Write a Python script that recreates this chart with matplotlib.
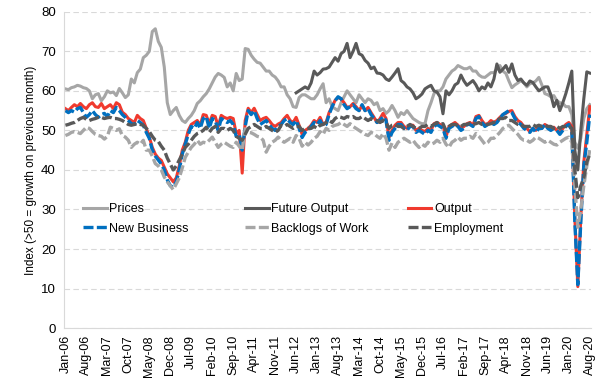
import matplotlib
matplotlib.use("Agg")
import matplotlib.pyplot as plt
import pandas as pd

plt.rcParams['font.family'] = ['Liberation Sans', 'DejaVu Sans']

months = list(pd.date_range('2006-01-01', '2020-08-01', freq='MS').strftime('%b-%y'))

prices = [
    60.5, 60.3, 60.8, 61.0, 61.4, 61.2, 60.8, 60.6, 60.0, 58.0, 59.0, 59.3,
    57.5, 58.5, 60.0, 59.5, 59.7, 58.8, 60.6, 59.5, 58.3, 59.0, 63.0, 62.0,
    64.6, 65.5, 68.4, 69.0, 70.0, 75.0, 75.7, 72.5, 71.0, 66.0, 57.0, 54.0,
    55.0, 55.8, 53.8, 52.5, 52.0, 53.0, 53.8, 55.0, 56.8, 57.5, 58.5, 59.3,
    60.5, 62.0, 63.5, 64.4, 64.0, 63.4, 61.0, 62.0, 60.0, 64.4, 62.6, 63.0,
    70.7, 70.5, 69.0, 68.0, 67.2, 67.0, 66.0, 65.0, 65.0, 64.0, 63.5, 62.5,
    61.0, 61.0, 59.0, 58.0, 56.0, 55.8, 58.3, 59.0, 59.0, 58.5, 58.0, 58.0,
    59.0, 60.5, 61.8, 57.0, 58.0, 56.0, 55.5, 55.0, 57.0, 58.5, 60.0, 59.0,
    58.0, 57.0, 59.0, 58.0, 57.0, 58.0, 57.6, 56.5, 57.0, 55.0, 55.5, 54.3,
    55.0, 56.3, 55.0, 53.3, 54.5, 54.0, 55.0, 54.0, 53.0, 52.5, 52.0, 51.7,
    51.7, 55.0, 57.0, 59.3, 60.0, 60.0, 61.0, 63.0, 64.0, 65.0, 65.5, 66.4,
    66.0, 65.6, 65.6, 66.0, 65.0, 65.0, 64.0, 63.5, 63.4, 64.0, 64.6, 64.6,
    65.5, 66.4, 65.0, 64.4, 62.5, 60.8, 61.5, 62.0, 62.6, 62.0, 61.0, 61.8,
    62.0, 62.5, 63.4, 61.5, 59.3, 59.0, 58.5, 58.8, 57.5, 57.0, 56.8, 56.0,
    56.0, 54.0, 47.0, 45.5, 48.0, 53.0, 55.5, 56.5,
]

future_output_start = 'Jun-12'
future_output = [
    59.5, 60.0, 60.5, 61.0, 60.5, 62.0, 65.0,
    64.0, 64.6, 65.5, 65.6, 66.0, 67.2, 68.4, 67.5, 69.4, 70.0, 72.0, 68.4,
    70.0, 72.0, 69.4, 69.0, 67.7, 67.0, 65.6, 66.0, 64.5, 64.4, 64.0, 63.0,
    62.6, 63.5, 64.5, 65.6, 62.6, 62.0, 61.0, 60.5, 59.5, 58.0, 58.5, 59.2,
    60.5, 61.0, 61.4, 60.0, 59.7, 58.5, 54.2, 60.0, 59.0, 60.0, 61.5, 62.0,
    64.0, 62.5, 61.4, 62.0, 62.6, 61.5, 60.0, 61.0, 60.5, 62.0, 61.0, 63.0,
    66.8, 64.7, 65.5, 66.4, 64.7, 66.8, 64.0, 62.6, 63.0, 62.0, 61.4, 62.5,
    62.1, 61.0, 60.0, 60.5, 61.0, 61.0, 59.0, 56.0, 57.6, 55.0, 57.0, 59.3,
    62.0, 65.0, 45.0, 40.0, 50.0, 58.0, 64.8, 64.5,
]

output = [
    55.5, 55.0, 55.8, 56.5, 56.0, 56.8, 56.0, 55.5, 56.5, 57.0, 56.0, 55.8,
    56.8, 55.5, 56.0, 56.5, 55.5, 57.0, 56.5, 54.6, 54.0, 53.0, 52.5, 52.0,
    53.8, 53.0, 52.5, 50.5, 48.3, 45.7, 44.0, 43.0, 42.4, 40.7, 39.0, 38.0,
    37.0, 38.0, 41.0, 45.0, 47.0, 50.0, 51.5, 52.0, 52.5, 51.3, 54.0, 53.8,
    51.7, 53.8, 53.5, 51.0, 53.8, 53.3, 53.0, 53.3, 53.0, 49.2, 50.0, 39.2,
    52.5, 55.6, 54.5, 55.6, 54.0, 52.5, 53.0, 53.3, 52.5, 51.5, 51.0, 51.6,
    52.0, 53.0, 53.8, 52.5, 52.0, 53.3, 51.3, 49.0, 50.0, 50.5, 51.3, 52.5,
    52.0, 53.3, 51.5, 52.0, 54.5, 56.0, 57.6, 58.3, 58.0, 57.0, 55.8, 56.0,
    56.8, 56.0, 55.0, 56.3, 55.0, 55.8, 54.5, 53.3, 52.0, 53.0, 54.3, 53.0,
    48.3, 50.0, 51.3, 52.0, 52.0, 51.0, 50.5, 51.3, 51.3, 50.0, 50.5, 50.0,
    49.7, 50.5, 50.0, 51.7, 52.0, 51.5, 51.3, 48.3, 51.0, 51.5, 52.0, 51.3,
    50.5, 51.0, 51.7, 52.0, 51.3, 53.5, 53.8, 52.5, 51.5, 51.7, 52.5, 52.0,
    52.5, 53.3, 54.0, 54.3, 54.8, 55.0, 53.5, 52.5, 52.0, 51.0, 50.5, 49.7,
    50.5, 50.0, 51.0, 50.5, 51.5, 51.0, 50.5, 50.8, 50.0, 49.5, 50.5, 51.5,
    52.0, 51.0, 28.0, 10.5, 28.0, 42.0, 49.0, 56.0,
]

new_business = [
    55.0, 54.5, 55.0, 54.6, 55.5, 55.8, 54.5, 53.3, 54.0, 55.0, 54.0, 53.3,
    54.0, 54.3, 53.5, 55.0, 54.5, 55.8, 55.0, 54.0, 53.3, 52.5, 51.7, 51.5,
    52.5, 52.0, 51.3, 49.5, 48.0, 45.0, 43.5, 42.5, 41.5, 40.0, 37.5, 36.0,
    35.6, 37.0, 40.0, 44.0, 46.5, 49.0, 51.0, 50.5, 52.0, 50.5, 53.0, 53.5,
    50.5, 53.0, 52.5, 50.0, 53.0, 52.5, 52.0, 52.5, 51.5, 48.5, 49.0, 45.0,
    51.0, 55.0, 54.0, 55.0, 53.0, 51.5, 52.0, 52.5, 51.5, 50.5, 50.0, 51.0,
    51.5, 52.5, 53.0, 52.0, 51.5, 52.5, 50.5, 48.2, 49.5, 50.0, 51.0, 52.0,
    51.5, 52.5, 51.0, 51.5, 54.0, 56.0, 57.5, 58.5, 58.0, 56.5, 55.5, 56.0,
    56.5, 55.5, 55.0, 56.5, 55.0, 55.5, 54.0, 53.0, 52.0, 52.5, 53.5, 52.5,
    47.5, 49.5, 50.5, 51.5, 51.5, 50.5, 50.0, 51.0, 51.0, 49.5, 50.0, 49.5,
    49.0, 50.0, 49.5, 51.0, 51.5, 51.0, 50.5, 48.0, 50.5, 51.0, 51.5, 51.0,
    50.0, 50.5, 51.5, 51.5, 51.0, 53.0, 53.5, 52.0, 51.0, 51.5, 52.0, 51.5,
    52.0, 53.0, 54.0, 54.5, 55.0, 54.5, 53.0, 52.0, 51.5, 50.5, 50.0, 49.5,
    50.5, 49.5, 50.5, 50.5, 51.5, 50.5, 50.0, 50.5, 50.0, 49.0, 50.0, 51.0,
    51.5, 50.0, 27.0, 11.0, 27.0, 41.0, 47.0, 54.0,
]

backlogs = [
    48.7, 49.0, 49.5, 49.7, 49.5, 49.2, 50.0, 50.8, 50.5, 49.7, 49.0, 48.7,
    48.5, 47.8, 48.5, 50.8, 50.5, 50.0, 50.4, 48.7, 48.3, 47.5, 45.7, 46.5,
    47.0, 46.5, 47.5, 45.0, 45.0, 43.5, 41.6, 41.0, 40.0, 38.2, 37.0, 36.0,
    35.0, 36.5, 38.0, 40.5, 43.2, 44.5, 45.7, 46.5, 47.5, 46.5, 47.0, 46.8,
    47.5, 48.3, 47.0, 45.7, 46.5, 47.0, 46.5, 46.0, 45.7, 47.0, 46.0, 45.0,
    50.4, 49.5, 49.4, 49.0, 48.5, 48.3, 47.5, 44.5, 46.0, 47.0, 47.5, 48.3,
    47.5, 47.0, 47.5, 48.0, 47.0, 48.7, 48.0, 46.0, 47.0, 46.3, 47.0, 48.0,
    48.5, 49.7, 49.0, 50.5, 50.0, 51.0, 51.3, 51.5, 52.0, 51.5, 51.0, 51.7,
    51.0, 50.5, 50.0, 49.5, 49.0, 48.7, 49.5, 49.2, 48.5, 48.0, 49.2, 48.0,
    45.0, 46.8, 45.7, 47.0, 47.5, 48.0, 47.5, 47.0, 47.5, 46.5, 45.7, 46.5,
    46.0, 47.0, 46.5, 46.8, 47.5, 47.0, 48.0, 46.5, 45.7, 47.0, 47.5, 48.3,
    47.5, 48.0, 48.0, 48.5, 48.0, 49.2, 48.5, 47.5, 46.5, 47.0, 48.0, 48.0,
    48.7, 49.5, 50.5, 51.0, 51.3, 50.5, 49.7, 49.0, 48.0, 47.5, 47.5, 47.0,
    47.5, 48.3, 48.0, 47.5, 47.0, 47.5, 47.0, 46.5, 46.3, 47.0, 47.5, 48.0,
    48.3, 47.0, 36.0, 25.5, 30.0, 36.0, 41.0, 45.0,
]

employment = [
    51.3, 51.5, 51.8, 52.0, 52.5, 53.0, 53.3, 52.8, 52.5, 52.8, 53.0, 53.3,
    53.3, 53.0, 53.2, 53.3, 53.0, 53.0, 52.8, 52.5, 52.0, 51.5, 51.3, 51.5,
    51.7, 51.5, 51.3, 50.5, 49.7, 48.5, 47.5, 47.2, 46.0, 45.0, 43.0, 41.5,
    40.0, 41.0, 42.5, 44.0, 45.7, 46.5, 47.5, 48.5, 49.2, 49.5, 50.0, 50.8,
    49.5, 50.5, 51.0, 49.5, 50.5, 50.5, 50.0, 50.5, 50.0, 48.5, 48.0, 47.5,
    49.0, 50.5, 51.0, 51.5, 51.0, 50.5, 50.5, 51.0, 50.5, 50.0, 49.5, 50.0,
    51.3, 51.0, 51.5, 51.0, 50.5, 51.0, 51.0, 50.0, 50.5, 50.5, 50.5, 51.0,
    50.5, 51.3, 51.5, 52.0, 52.5, 52.0, 53.0, 53.5, 53.3, 53.0, 53.5, 53.3,
    53.5, 53.0, 53.0, 53.5, 53.0, 52.5, 53.0, 52.5, 52.5, 52.0, 52.5, 52.0,
    50.5, 51.3, 51.5, 51.0, 51.0, 50.5, 51.0, 51.5, 51.0, 50.5, 50.5, 51.0,
    51.0, 51.5, 51.0, 51.5, 52.0, 51.5, 51.7, 50.0, 51.0, 51.5, 51.5, 51.3,
    51.0, 51.5, 51.5, 51.8, 51.5, 51.7, 52.0, 51.5, 51.5, 51.5, 51.7, 52.0,
    52.5, 53.0, 53.0, 53.3, 52.5, 52.5, 52.0, 51.5, 51.5, 51.0, 51.0, 51.0,
    51.5, 51.0, 51.3, 51.0, 51.3, 51.0, 51.0, 50.5, 51.0, 50.5, 51.0, 51.0,
    51.3, 50.5, 40.0, 33.0, 36.0, 38.0, 42.0, 44.0,
]

tick_labels = months[::7]
y_ticks = [0, 10, 20, 30, 40, 50, 60, 70, 80]

light_grey = '#A6A6A6'
dark_grey = '#595959'
red = '#F03A2E'
blue = '#0070C0'

fig = plt.figure(figsize=(6.0, 3.92), dpi=100)
ax = fig.add_axes([0.107, 0.163, 0.878, 0.807])

x = list(range(len(months)))
fo_i = months.index(future_output_start)
x_fo = x[fo_i:fo_i + len(future_output)]

dash = (3.0, 1.0)
ax.plot(x, prices, color=light_grey, lw=2.2, label='Prices', solid_joinstyle='round')
ax.plot(x_fo, future_output, color=dark_grey, lw=2.2, label='Future Output', solid_joinstyle='round')
ax.plot(x, output, color=red, lw=2.2, label='Output', solid_joinstyle='round')
ax.plot(x, new_business, color=blue, lw=2.4, dashes=dash, label='New Business')
ax.plot(x, backlogs, color=light_grey, lw=2.4, dashes=dash, label='Backlogs of Work')
ax.plot(x, employment, color=dark_grey, lw=2.4, dashes=dash, label='Employment')

ax.set_xlim(-0.4, len(months) - 0.6)
ax.set_ylim(0, 80)
ax.set_yticks(y_ticks)
ax.set_xticks(x[::7])
ax.set_xticklabels(tick_labels, rotation=90, fontsize=9)
ax.tick_params(axis='y', labelsize=9.5, length=0, pad=6)
ax.tick_params(axis='x', length=0, pad=5)

ax.yaxis.grid(True, color='#D9D9D9', linestyle=(0, (5, 3)), linewidth=0.8)
ax.set_axisbelow(True)
for s in ['top', 'right']:
    ax.spines[s].set_visible(False)
for s in ['left', 'bottom']:
    ax.spines[s].set_color('#D9D9D9')
    ax.spines[s].set_linewidth(0.8)

ax.set_ylabel('Index (>50 = growth on previous month)', fontsize=8.5, labelpad=3)

h, l = ax.get_legend_handles_labels()
columns = [(0, 3), (1, 4), (2, 5)]
col_x = [0.036, 0.343, 0.652]
legends = []
for (a, b), cx in zip(columns, col_x):
    leg = ax.legend([h[a], h[b]], [l[a], l[b]], ncol=1, frameon=False,
                    loc='upper left', bbox_to_anchor=(cx, 0.395), fontsize=9,
                    handlelength=1.9, handletextpad=0.2,
                    labelspacing=0.6, borderpad=0, borderaxespad=0)
    legends.append(leg)
for leg in legends[:-1]:
    ax.add_artist(leg)

fig.savefig('out.png', dpi=100)
